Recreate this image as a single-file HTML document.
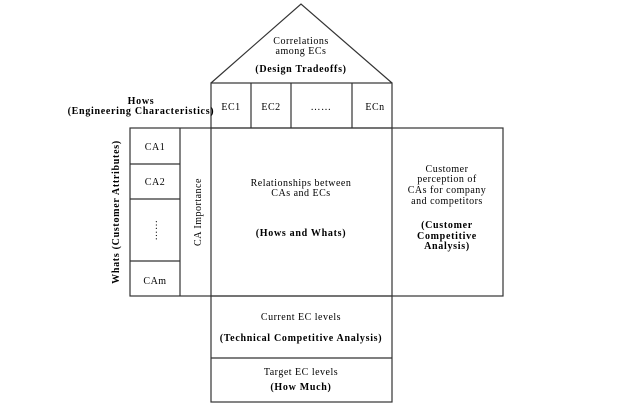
<!DOCTYPE html>
<html><head><meta charset="utf-8"><style>
html,body{margin:0;padding:0;background:#fff;width:623px;height:406px;overflow:hidden}
text{font-family:"Liberation Serif",serif;font-size:10px;fill:#000;letter-spacing:0.5px}
.b{font-weight:bold;letter-spacing:0.7px}
</style></head><body>
<svg width="623" height="406" xmlns="http://www.w3.org/2000/svg">
<g fill="none" stroke="#333" stroke-width="1.2">
<polyline points="211,83 301,4 392,83"/>
<rect x="211" y="83" width="181" height="45"/>
<line x1="251" y1="83" x2="251" y2="128"/>
<line x1="291" y1="83" x2="291" y2="128"/>
<line x1="352" y1="83" x2="352" y2="128"/>
<rect x="130" y="128" width="373" height="168"/>
<line x1="180" y1="128" x2="180" y2="296"/>
<line x1="211" y1="128" x2="211" y2="296"/>
<line x1="392" y1="128" x2="392" y2="296"/>
<line x1="130" y1="164" x2="180" y2="164"/>
<line x1="130" y1="199" x2="180" y2="199"/>
<line x1="130" y1="261" x2="180" y2="261"/>
<rect x="211" y="296" width="181" height="106"/>
<line x1="211" y1="358" x2="392" y2="358"/>
</g>
<g text-anchor="middle">
<text x="301" y="44">Correlations</text>
<text x="301" y="54">among ECs</text>
<text x="301" y="72" class="b">(Design Tradeoffs)</text>
<text x="141" y="104" class="b">Hows</text>
<text x="141" y="114" class="b">(Engineering Characteristics)</text>
<text x="231" y="110">EC1</text>
<text x="271" y="110">EC2</text>
<text x="321" y="110">……</text>
<text x="375" y="110">ECn</text>
<text x="155" y="150">CA1</text>
<text x="155" y="185">CA2</text>
<text x="155" y="284">CAm</text>
<text x="301" y="186">Relationships between</text>
<text x="301" y="196">CAs and ECs</text>
<text x="301" y="236" class="b">(Hows and Whats)</text>
<text x="447" y="172">Customer</text>
<text x="447" y="182">perception of</text>
<text x="447" y="193">CAs for company</text>
<text x="447" y="204">and competitors</text>
<text x="447" y="228" class="b">(Customer</text>
<text x="447" y="239" class="b">Competitive</text>
<text x="447" y="249" class="b">Analysis)</text>
<text x="301" y="320">Current EC levels</text>
<text x="301" y="341" class="b">(Technical Competitive Analysis)</text>
<text x="301" y="375">Target EC levels</text>
<text x="301" y="390" class="b">(How Much)</text>
<text transform="translate(119,212) rotate(-90)" class="b">Whats (Customer Attributes)</text>
<text transform="translate(201,212) rotate(-90)">CA Importance</text>
<text transform="translate(157,230) rotate(-90)" fill="#333">……</text>
</g>
</svg>
</body></html>
